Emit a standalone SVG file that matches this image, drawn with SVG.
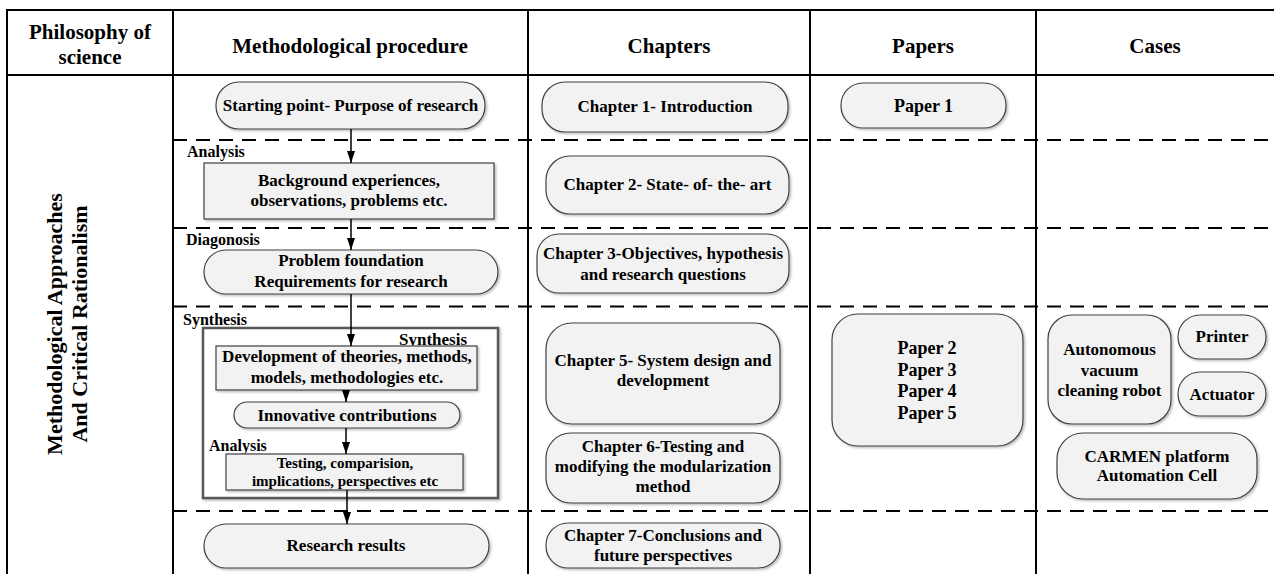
<svg xmlns="http://www.w3.org/2000/svg" width="1274" height="574" viewBox="0 0 1274 574" font-family="'Liberation Serif', 'DejaVu Serif', serif" font-weight="bold">
  <defs>
    <filter id="sh" x="-5%" y="-5%" width="115%" height="125%">
      <feDropShadow dx="1.5" dy="1.5" stdDeviation="0.8" flood-color="#8c8c8c" flood-opacity="0.6"/>
    </filter>
    <marker id="ah" markerUnits="userSpaceOnUse" markerWidth="12" markerHeight="8" refX="12" refY="4" orient="auto">
      <path d="M0,0 L12,4 L0,8 z" fill="#000"/>
    </marker>
    <style>
      .grid { stroke:#000; stroke-width:2; fill:none; }
      .dash { stroke:#000; stroke-width:2; stroke-dasharray:14 9; fill:none; }
      .box { fill:#f2f2f2; stroke:#404040; stroke-width:1.2; filter:url(#sh); }
      .frame { fill:#fff; stroke:#595959; stroke-width:2.5; filter:url(#sh); }
      .arr { stroke:#000; stroke-width:1.5; fill:none; marker-end:url(#ah); }
      text { fill:#000; }
      .h { font-size:21px; text-anchor:middle; }
      .v { font-size:22px; text-anchor:middle; }
      .t { font-size:17px; text-anchor:middle; }
      .p { font-size:18px; text-anchor:middle; }
      .s { font-size:15px; text-anchor:middle; }
      .l { font-size:16px; }
      .r { font-size:17px; text-anchor:end; }
    </style>
  </defs>

  <rect width="1274" height="574" fill="#fff"/>

  <!-- table frame, column rules and row separators -->
  <g id="table">
    <line class="grid" x1="7" y1="10" x2="1274" y2="10"/>
    <line class="grid" x1="7" y1="75" x2="1274" y2="75"/>
    <line class="grid" x1="7" y1="9" x2="7" y2="574"/>
    <line class="grid" x1="173" y1="9" x2="173" y2="574"/>
    <line class="grid" x1="528" y1="9" x2="528" y2="574"/>
    <line class="grid" x1="810" y1="9" x2="810" y2="574"/>
    <line class="grid" x1="1036" y1="9" x2="1036" y2="574"/>
    <line class="dash" x1="173" y1="140" x2="1274" y2="140"/>
    <line class="dash" x1="173" y1="228" x2="1274" y2="228"/>
    <line class="dash" x1="173" y1="306.5" x2="1274" y2="306.5"/>
    <line class="dash" x1="173" y1="511" x2="1274" y2="511"/>
  </g>

  <!-- column headings -->
  <g id="headers">
    <text class="h" x="90" y="39">Philosophy of</text>
    <text class="h" x="90" y="64">science</text>
    <text class="h" x="350" y="53">Methodological procedure</text>
    <text class="h" x="669" y="53">Chapters</text>
    <text class="h" x="923" y="53">Papers</text>
    <text class="h" x="1155" y="53">Cases</text>
  </g>

  <!-- philosophy of science column -->
  <g id="philosophy">
    <text class="v" transform="translate(62,324) rotate(-90)">Methodological Approaches</text>
    <text class="v" transform="translate(87,324) rotate(-90)">And Critical Rationalism</text>
  </g>

  <!-- phase labels -->
  <g id="phase-labels">
    <text class="l" x="187" y="157">Analysis</text>
    <text class="l" x="186" y="245">Diagonosis</text>
    <text class="l" x="183" y="325">Synthesis</text>
  </g>

  <!-- synthesis loop frame -->
  <g id="synthesis-frame">
    <rect class="frame" x="203" y="328" width="295" height="170"/>
    <text class="r" x="467" y="345">Synthesis</text>
    <text class="l" x="209" y="451">Analysis</text>
  </g>

  <!-- methodological procedure -->
  <g id="starting-point">
    <rect class="box" x="216" y="82" width="269" height="47" rx="23"/>
    <text class="t" x="350.5" y="111">Starting point- Purpose of research</text>
  </g>
  <g id="background">
    <rect class="box" x="204" y="163" width="290" height="56"/>
    <text class="t" x="349" y="186">Background experiences,</text>
    <text class="t" x="349" y="206">observations, problems etc.</text>
  </g>
  <g id="problem-foundation">
    <rect class="box" x="204" y="250" width="294" height="44" rx="22"/>
    <text class="t" x="351" y="266">Problem foundation</text>
    <text class="t" x="351" y="287">Requirements for research</text>
  </g>
  <g id="development">
    <rect class="box" x="216" y="346" width="261" height="44"/>
    <text class="t" x="347" y="362">Development of theories, methods,</text>
    <text class="t" x="347" y="383">models, methodologies etc.</text>
  </g>
  <g id="innovative">
    <rect class="box" x="234" y="402" width="226" height="26" rx="13"/>
    <text class="t" x="347" y="421">Innovative contributions</text>
  </g>
  <g id="testing">
    <rect class="box" x="226" y="454" width="237" height="36"/>
    <text class="s" x="345" y="468">Testing, comparision,</text>
    <text class="s" x="345" y="486">implications, perspectives etc</text>
  </g>
  <g id="research-results">
    <rect class="box" x="204" y="524" width="285" height="44" rx="22"/>
    <text class="t" x="346" y="551">Research results</text>
  </g>

  <!-- chapters -->
  <g id="chapter-1">
    <rect class="box" x="542" y="82" width="246" height="50" rx="23"/>
    <text class="t" x="665" y="112">Chapter 1- Introduction</text>
  </g>
  <g id="chapter-2">
    <rect class="box" x="546" y="156" width="243" height="58" rx="24"/>
    <text class="t" x="667.5" y="190">Chapter 2- State- of- the- art</text>
  </g>
  <g id="chapter-3">
    <rect class="box" x="537" y="234" width="252" height="59" rx="22"/>
    <text class="t" x="663" y="259">Chapter 3-Objectives, hypothesis</text>
    <text class="t" x="663" y="280">and research questions</text>
  </g>
  <g id="chapter-5">
    <rect class="box" x="546" y="323" width="234" height="101" rx="26"/>
    <text class="t" x="663" y="366">Chapter 5- System design and</text>
    <text class="t" x="663" y="386">development</text>
  </g>
  <g id="chapter-6">
    <rect class="box" x="546" y="433" width="234" height="70" rx="25"/>
    <text class="t" x="663" y="452">Chapter 6-Testing and</text>
    <text class="t" x="663" y="472">modifying the modularization</text>
    <text class="t" x="663" y="492">method</text>
  </g>
  <g id="chapter-7">
    <rect class="box" x="546" y="523" width="234" height="45" rx="22"/>
    <text class="t" x="663" y="541">Chapter 7-Conclusions and</text>
    <text class="t" x="663" y="561">future perspectives</text>
  </g>

  <!-- papers -->
  <g id="paper-1">
    <rect class="box" x="841" y="83" width="165" height="45" rx="22"/>
    <text class="p" x="923.5" y="112">Paper 1</text>
  </g>
  <g id="papers-2-5">
    <rect class="box" x="832" y="314" width="191" height="132" rx="26"/>
    <text class="p" x="927" y="354">Paper 2</text>
    <text class="p" x="927" y="376">Paper 3</text>
    <text class="p" x="927" y="397">Paper 4</text>
    <text class="p" x="927" y="419">Paper 5</text>
  </g>

  <!-- cases -->
  <g id="vacuum-robot">
    <rect class="box" x="1048" y="315" width="123" height="109" rx="24"/>
    <text class="t" x="1109.5" y="355">Autonomous</text>
    <text class="t" x="1109.5" y="376">vacuum</text>
    <text class="t" x="1109.5" y="396">cleaning robot</text>
  </g>
  <g id="printer">
    <rect class="box" x="1178" y="315" width="88" height="44" rx="22"/>
    <text class="t" x="1222" y="342">Printer</text>
  </g>
  <g id="actuator">
    <rect class="box" x="1178" y="372" width="88" height="44" rx="22"/>
    <text class="t" x="1222" y="400">Actuator</text>
  </g>
  <g id="carmen">
    <rect class="box" x="1057" y="433" width="200" height="66" rx="26"/>
    <text class="t" x="1157" y="462">CARMEN platform</text>
    <text class="t" x="1157" y="481">Automation Cell</text>
  </g>

  <!-- flow connectors -->
  <g id="connectors">
    <line class="arr" x1="351" y1="129" x2="351" y2="163"/>
    <line class="arr" x1="351" y1="219" x2="351" y2="250"/>
    <line class="arr" x1="351" y1="294" x2="351" y2="346"/>
    <line class="arr" x1="346" y1="390" x2="346" y2="402"/>
    <line class="arr" x1="346" y1="428" x2="346" y2="454"/>
    <line class="arr" x1="347" y1="490" x2="347" y2="524"/>
  </g>
</svg>
